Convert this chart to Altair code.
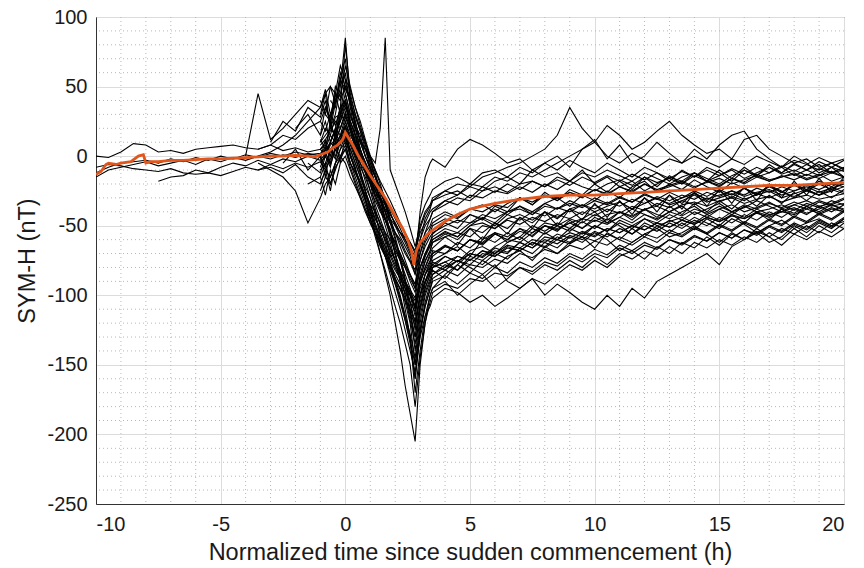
import altair as alt
import numpy as np
import pandas as pd

# ---- time grids (hours since sudden commencement) ----
T_PRE = list(np.round(np.arange(-10.0, -1.49, 0.5), 2))   # 18 samples
T_EVT = list(np.round(np.arange(-1.0, 3.41, 0.2), 2))     # 23 samples
T_POST = list(np.round(np.arange(3.5, 20.01, 0.5), 2))    # 34 samples
T_ALL = T_PRE + T_EVT + T_POST

# ---- individual storms: (start time, SYM-H values in nT) ----
L1 = (-10.0, [0, -1, 3, 9, 8, 3, 4, 2, 5, 6, 7, 8, 6, 5, 8, 4, 6, 3,
              5, 8, 4, 10, 14, 20, 10, 0, -5, -12, -20, -28, -30, -38, -45, -50, -55, -62, -70, -78, -60, -50, -45,
              -40, -35, -30, -32, -25, -22, -26, -20, -18, -22, -15, -18, -12, -15, -10, -14, -18, -12, -16, -20,
              -15, -12, -18, -14, -10, -16, -12, -8, -13, -10, -14, -9, -12, -10])
L2 = (-10.0, [-8, -6, -7, -9, -10, -11, -9, -12, -13, -12, -14, -11, -8, -10, -6, -9, -5, -8,
              -4, -10, -2, 5, 0, 8, -5, -12, -20, -28, -35, -40, -48, -55, -60, -68, -75, -80, -88, -95, -80, -72, -65,
              -60, -55, -58, -50, -48, -52, -45, -42, -46, -40, -44, -38, -35, -40, -36, -33, -38, -34, -30, -35,
              -32, -28, -33, -30, -27, -31, -28, -25, -30, -27, -24, -28, -25, -22])
L3 = (-10.0, [-12, -8, -5, -4, -3, -5, -2, -4, -1, -3, 0, -2, 1, -1, 2, 0, 3, 1,
              2, 6, 3, 9, 12, 25, 15, 8, -2, -8, -15, -22, -30, -35, -42, -48, -55, -58, -62, -68, -55, -48, -40,
              -38, -32, -35, -28, -30, -25, -27, -22, -26, -20, -24, -18, -22, -25, -20, -17, -21, -15, -19, -16,
              -20, -14, -18, -22, -16, -19, -13, -17, -15, -12, -16, -13, -18, -15])
L4 = (-7.5, [-18, -15, -14, -10, -12, -8, -5, -7, -3, -6, -2, -4, 0,
             -3, 2, -6, 4, 10, 15, 5, -5, -15, -25, -35, -45, -52, -60, -70, -78, -85, -92, -100, -110, -90, -80, -72,
             -70, -65, -68, -60, -62, -55, -58, -52, -55, -48, -50, -45, -48, -42, -46, -40, -44, -38, -42, -45,
             -40, -36, -42, -38, -35, -40, -37, -33, -38, -35, -32, -36, -34, -30])
L5 = (-10.0, [-15, -10, -8, -6, -4, -7, -5, -3, -6, -2, -4, -1, -3, 0, -2, 1, -1, 2,
              0, 4, 10, 6, 15, 22, 12, 2, -8, -15, -25, -32, -40, -46, -55, -62, -70, -78, -85, -92, -75, -65, -58,
              -55, -50, -46, -48, -42, -45, -40, -38, -42, -36, -38, -34, -37, -32, -35, -30, -33, -28, -31, -34,
              -30, -27, -31, -28, -25, -29, -26, -24, -28, -25, -22, -26, -23, -20])
M1 = (-4.0, [0, 45, 12, 20, 30, 40,
             35, 48, 30, 40, 55, 70, 40, 25, 10, 0, -10, -20, -30, -40, -55, -70, -85, -100, -115, -130, -105, -90, -80,
             -75, -70, -65, -72, -60, -55, -62, -58, -50, -54, -48, -52, -45, -40, -48, -44, -38, -42, -46, -40,
             -36, -42, -38, -34, -40, -37, -32, -36, -40, -35, -38, -33, -36, -34])
M2 = (-3.5, [5, 8, 15, 12, 20,
             25, 18, 30, 22, 35, 40, 28, 20, 12, 5, -5, -15, -22, -30, -38, -45, -52, -60, -68, -75, -40, -15, -5,
             -2, -8, 5, 12, 8, 2, -5, -2, -10, -15, -12, -18, -10, -20, -15, -22, -18, -25, -20, -15,
             -18, -12, -16, -20, -14, -10, -15, -12, -8, -14, -10, -6, -12, -8])
M3 = (-3.5, [-5, -10, -15, -25, -48,
             -30, -20, -15, -5, 5, 10, -5, -15, -25, -35, -45, -55, -62, -70, -78, -85, -92, -98, -105, -112, -95, -85, -80,
             -78, -82, -75, -80, -85, -78, -90, -95, -88, -100, -92, -98, -105, -110, -100, -108, -95, -102, -90, -85,
             -80, -75, -70, -78, -65, -60, -55, -62, -58, -50, -55, -48, -52, -45])
M4 = (-3.5, [0, 3, 8, 15, 25,
             35, 45, 50, 38, 60, 50, 42, 30, 20, 10, 0, -12, -25, -35, -48, -60, -75, -90, -110, -140, -110, -95, -85,
             -80, -72, -76, -68, -65, -70, -62, -58, -64, -55, -60, -52, -56, -50, -54, -46, -50, -45, -48, -42,
             -46, -40, -44, -38, -42, -36, -40, -38, -35, -39, -34, -37, -32, -35])
M5 = (-3.5, [-10, -8, -12, -6, -15,
             -20, -10, -25, -5, 0, -5, -15, -22, -30, -38, -45, -55, -60, -68, -75, -82, -88, -95, -100, -108, -90, -82, -75,
             -68, -70, -62, -66, -58, -62, -55, -60, -52, -56, -50, -54, -47, -52, -45, -50, -56, -48, -52, -46,
             -50, -44, -48, -52, -45, -49, -55, -50, -46, -52, -48, -45, -50, -47])
S0 = (-1.0, [-5, 0, 8, 12, 20, 30, 18, 5, -10, -25, -40, -55, -70, -85, -100, -120, -140, -165, -185, -205, -150, -120, -100,
             -95, -85, -78, -70, -72, -65, -60, -62, -55, -50, -52, -48, -45, -47, -42, -40, -43, -38, -36, -40,
             -35, -33, -36, -32, -30, -34, -31, -29, -33, -30, -28, -31, -29, -27])
S1 = (-1.0, [10, 15, 20, 30, 50, 85, 40, 20, 5, -10, -20, -35, -45, -55, -65, -75, -90, -105, -120, -150, -120, -100, -90,
             -85, -78, -82, -72, -75, -68, -70, -62, -66, -58, -60, -55, -58, -50, -54, -48, -52, -45, -50, -47,
             -44, -48, -42, -46, -40, -44, -38, -42, -40, -37, -41, -38, -35, -39])
S2 = (-0.8, [30, 25, 40, 45, 60, 35, 25, 10, 0, -8, -15, -25, -32, -40, -50, -58, -65, -72, -85, -70, -60, -52,
             -48, -42, -45, -38, -40, -35, -37, -30, -33, -28, -30, -26, -29, -24, -27, -22, -25, -20, -24, -21,
             -18, -22, -19, -16, -20, -17, -14, -18, -15, -13, -17, -14, -11, -15])
S3 = (-1.0, [-15, -5, -20, -10, 0, 5, -5, -12, -20, -30, -40, -50, -58, -65, -72, -80, -88, -95, -105, -120, -100, -85, -78,
             -72, -65, -68, -60, -63, -56, -60, -54, -57, -50, -53, -48, -52, -46, -49, -44, -48, -42, -45, -40,
             -43, -38, -41, -36, -40, -35, -38, -34, -37, -33, -36, -32, -35, -31])
S4 = (-1.0, [5, 10, 0, 15, 25, 35, 25, 15, 10, 5, 0, -5, 20, 85, -10, -20, -30, -40, -52, -65, -50, -40, -35,
             -30, -25, -28, -20, -22, -15, -18, -12, -15, -10, -5, 0, 5, 10, 0, -5, 2, -3, -8, -2,
             -5, 0, -4, -8, -2, -6, 0, -4, -8, -3, -6, -1, -5, -2])
S5 = (-1.0, [0, 5, 15, 10, 20, 30, 20, 10, 0, -10, -18, -25, -32, -40, -48, -55, -60, -68, -75, -82, -60, -45, -38,
             -32, -25, -20, -22, -15, -12, -8, -5, 0, 5, 15, 35, 20, 10, 22, 15, 5, 10, 18, 25,
             15, 8, 2, 5, -2, 12, 15, 5, 0, -5, -2, -8, -5, -10])
S6 = (-0.6, [40, 35, 55, 45, 30, 20, 5, -5, -15, -28, -38, -50, -62, -75, -90, -110, -130, -170, -140, -115, -100,
             -95, -90, -100, -92, -85, -95, -88, -80, -85, -78, -82, -75, -80, -72, -78, -70, -74, -68, -72, -65,
             -70, -62, -66, -60, -64, -58, -62, -55, -60, -52, -58, -50, -55, -48])
S7 = (-1.0, [-10, -5, 5, 0, 12, 18, 8, -2, -12, -22, -30, -40, -48, -58, -66, -75, -82, -90, -98, -104, -88, -76, -68,
             -62, -58, -55, -58, -50, -52, -46, -49, -44, -47, -42, -45, -40, -43, -38, -41, -36, -39, -34, -37,
             -32, -35, -30, -33, -29, -32, -27, -30, -26, -29, -25, -28, -24, -27])
S8 = (-1.0, [15, 25, 10, 20, 35, 40, 25, 15, 2, -8, -18, -28, -36, -45, -55, -62, -72, -80, -90, -98, -80, -70, -62,
             -58, -52, -55, -48, -45, -50, -42, -46, -40, -43, -37, -40, -35, -38, -33, -36, -31, -34, -29, -32,
             -28, -31, -26, -29, -25, -28, -23, -26, -22, -25, -21, -24, -20, -22])
S9 = (-1.0, [-20, -10, -15, -5, 5, 15, 0, -10, -22, -32, -42, -52, -62, -72, -82, -92, -102, -115, -130, -160, -125, -105, -92,
             -85, -80, -75, -78, -70, -72, -66, -68, -62, -65, -58, -62, -55, -58, -52, -55, -50, -53, -48, -51,
             -46, -49, -44, -47, -42, -45, -40, -43, -38, -41, -36, -40, -35, -38])
S10 = (-1.0, [5, 0, 10, 20, 15, 28, 18, 10, 0, -8, -16, -24, -32, -40, -48, -55, -62, -70, -76, -85, -65, -55, -50,
              -45, -40, -44, -38, -35, -40, -34, -30, -35, -28, -32, -26, -30, -24, -28, -22, -26, -20, -25, -22,
              -19, -23, -18, -21, -16, -20, -15, -18, -14, -17, -13, -16, -12, -15])
S11 = (-1.0, [40, 30, 50, 45, 65, 55, 48, 35, 22, 10, -2, -15, -28, -40, -55, -70, -85, -100, -118, -135, -110, -95, -85,
              -80, -76, -72, -75, -68, -70, -64, -66, -60, -62, -56, -59, -54, -57, -52, -55, -50, -53, -48, -51,
              -46, -49, -44, -47, -43, -45, -41, -44, -40, -42, -38, -41, -37, -40])
S12 = (-1.0, [10, 20, 15, 28, 30, 45, 30, 20, 12, 5, -2, -10, -18, -25, -32, -40, -48, -55, -62, -70, -45, -35, -28,
              -24, -18, -15, -20, -12, -10, -15, -8, -12, -5, -10, -3, -8, -12, -5, -10, -15, -8, -12, -18,
              -10, -15, -8, -12, -18, -10, -14, -8, -12, -6, -10, -14, -8, -11])
S13 = (-1.0, [0, -8, 5, -2, 10, 12, 0, -10, -20, -32, -45, -58, -70, -82, -95, -108, -120, -135, -150, -180, -145, -120, -105,
              -98, -92, -95, -88, -90, -84, -86, -80, -83, -76, -79, -72, -76, -70, -73, -66, -70, -64, -67, -60,
              -64, -58, -61, -55, -59, -53, -56, -50, -54, -48, -52, -46, -50, -44])
S14 = (-1.0, [25, 35, 28, 45, 40, 50, 38, 28, 18, 8, -5, -15, -25, -35, -45, -55, -65, -75, -85, -95, -75, -62, -55,
              -50, -45, -48, -42, -45, -38, -42, -36, -40, -34, -38, -32, -36, -30, -34, -29, -33, -27, -31, -26,
              -30, -25, -29, -24, -28, -23, -27, -22, -26, -21, -25, -20, -24, -19])
S15 = (-1.0, [-25, -15, -20, -8, -2, 5, -8, -18, -28, -38, -48, -55, -65, -72, -80, -88, -95, -102, -110, -118, -100, -90, -82,
              -76, -80, -72, -75, -68, -72, -65, -68, -62, -66, -60, -63, -58, -61, -56, -60, -64, -58, -62, -55,
              -58, -52, -56, -50, -54, -48, -52, -46, -50, -44, -48, -42, -46, -40])
S16 = (-1.0, [8, 12, 18, 25, 20, 32, 22, 12, 4, -4, -12, -20, -26, -34, -42, -48, -55, -60, -66, -72, -52, -42, -36,
              -32, -28, -25, -30, -22, -26, -20, -24, -18, -22, -17, -21, -15, -19, -14, -18, -13, -17, -12, -16,
              -11, -15, -10, -14, -9, -13, -8, -12, -7, -11, -6, -10, -5, -9])
N1 = (-3.0, [10, 25, 18, 35,
             28, 40, 22, 45, 30, 55, 35, 15, 0, -12, -25, -38, -50, -62, -75, -88, -100, -115, -128, -145, -115, -98, -88,
             -82, -88, -78, -84, -75, -80, -72, -68, -75, -65, -70, -62, -58, -66, -55, -60, -52, -58, -50, -55,
             -48, -53, -45, -50, -42, -48, -40, -46, -38, -44, -36, -42, -38, -40])
N2 = (-2.5, [-5, 5, -10,
             0, -15, 5, 10, -5, 15, 0, -10, -18, -28, -36, -45, -52, -60, -68, -75, -82, -90, -96, -102, -80, -70, -64,
             -60, -54, -58, -50, -44, -48, -40, -36, -42, -34, -30, -36, -28, -32, -25, -30, -22, -18, -26, -20,
             -24, -17, -22, -26, -19, -23, -28, -21, -25, -30, -24, -28, -22, -26])
N3 = (-2.0, [20, 30,
             15, 35, 25, 50, 42, 65, 50, 35, 25, 12, 0, -10, -20, -32, -45, -58, -72, -88, -105, -125, -100, -85, -76,
             -70, -64, -68, -60, -64, -56, -60, -52, -58, -50, -54, -46, -52, -44, -48, -40, -46, -38, -44, -36,
             -42, -34, -40, -32, -38, -30, -36, -28, -34, -26, -32, -25, -30, -24])
N4 = (-1.5, [-5,
             -12, 0, -8, 8, 15, 10, 5, -5, -15, -25, -35, -48, -58, -68, -80, -92, -105, -118, -132, -150, -125, -108, -96,
             -90, -86, -92, -84, -88, -80, -84, -76, -80, -73, -77, -70, -74, -67, -71, -64, -68, -62, -66, -60,
             -63, -57, -61, -55, -59, -53, -57, -51, -55, -49, -53, -47, -51, -45])
N5 = (-0.8, [5, 25, 12, 30, 40, 20, 8, -5, -18, -30, -42, -55, -65, -78, -90, -102, -118, -135, -160, -128, -108, -95,
             -88, -82, -86, -78, -80, -74, -77, -70, -73, -67, -70, -64, -67, -61, -64, -58, -62, -56, -59, -53,
             -57, -51, -55, -49, -53, -47, -51, -45, -49, -43, -47, -41, -45, -39])
N6 = (-0.6, [20, 15, 35, 80, 45, 30, 18, 5, -8, -20, -32, -45, -58, -70, -82, -95, -112, -130, -108, -92, -82,
             -78, -72, -76, -70, -73, -66, -69, -62, -66, -60, -63, -57, -60, -54, -58, -52, -56, -50, -54, -48,
             -52, -46, -50, -44, -48, -42, -46, -40, -44, -38, -42, -36, -40, -35])
N7 = (-1.0, [-8, 2, 10, 18, 25, 38, 22, 10, 0, -10, -20, -30, -38, -46, -55, -62, -70, -78, -86, -92, -70, -55, -45,
             -40, -32, -28, -22, -25, -18, -15, -20, -10, -5, 0, -8, 5, 12, -2, 8, -5, 0, 10, 2,
             -5, 5, -2, 8, 15, 18, 5, -2, -8, 0, -5, -12, -8, -15])
N8 = (-1.0, [12, 5, 22, 15, 30, 25, 12, 0, -12, -25, -38, -50, -60, -72, -85, -98, -110, -125, -140, -155, -130, -115, -108,
             -102, -95, -98, -105, -100, -108, -102, -95, -88, -92, -85, -78, -82, -75, -80, -72, -68, -74, -65, -70,
             -62, -66, -58, -64, -56, -60, -54, -58, -52, -56, -50, -55, -48, -52])
N9 = (-1.5, [-20,
             -15, -28, -10, -20, -5, 0, -10, -20, -30, -40, -48, -56, -64, -72, -80, -88, -96, -104, -112, -122, -100, -90, -84,
             -80, -76, -82, -74, -78, -70, -74, -66, -70, -62, -66, -58, -62, -55, -60, -68, -62, -56, -52, -58,
             -55, -50, -56, -62, -55, -60, -52, -58, -64, -56, -60, -54, -58, -52])
N10 = (-0.4, [10, 28, 40, 25, 15, 5, -5, -15, -25, -35, -45, -55, -65, -75, -85, -95, -108, -88, -75, -68,
              -62, -56, -60, -52, -55, -48, -52, -44, -48, -40, -45, -38, -42, -35, -40, -33, -38, -30, -36, -28,
              -34, -26, -32, -25, -30, -23, -28, -21, -26, -20, -24, -18, -22, -17])
N11 = (-1.0, [-2, 12, -6, 18, 8, 22, 2, -8, -22, -30, -45, -40, -58, -55, -72, -70, -86, -92, -100, -115, -92, -80, -70,
              -66, -58, -64, -52, -60, -48, -56, -44, -52, -40, -50, -38, -46, -34, -44, -32, -42, -30, -40, -28,
              -38, -26, -36, -24, -34, -22, -32, -20, -30, -18, -28, -16, -26, -15])
N12 = (-1.0, [30, 45, 20, 38, 55, 48, 40, 22, 15, 0, -8, -22, -30, -45, -52, -66, -74, -90, -98, -110, -85, -72, -62,
              -56, -48, -52, -42, -46, -36, -40, -30, -35, -26, -32, -24, -28, -20, -26, -18, -24, -15, -22, -14,
              -20, -12, -18, -10, -16, -8, -14, -6, -12, -5, -10, -4, -8, -3])

TRACES = {"L1": L1, "L2": L2, "L3": L3, "L4": L4, "L5": L5,
          "M1": M1, "M2": M2, "M3": M3, "M4": M4, "M5": M5,
          "S0": S0, "S1": S1, "S2": S2, "S3": S3, "S4": S4, "S5": S5, "S6": S6, "S7": S7,
          "S8": S8, "S9": S9, "S10": S10, "S11": S11, "S12": S12, "S13": S13, "S14": S14,
          "S15": S15, "S16": S16, "N1": N1, "N2": N2, "N3": N3, "N4": N4, "N5": N5, "N6": N6,
          "N7": N7, "N8": N8, "N9": N9, "N10": N10, "N11": N11, "N12": N12}

# ---- superposed-epoch average (orange) ----
MEAN_T = [-10, -9.8, -9.6, -9.5, -9.2, -9, -8.6, -8.3, -8.1, -8.0, -7.8, -7.5, -7, -6.5, -6, -5.5,
          -5, -4.5, -4, -3.5, -3, -2.5, -2, -1.5, -1.2, -1, -0.7, -0.5, -0.3, -0.1, 0, 0.1, 0.3,
          0.5, 0.8, 1, 1.3, 1.6, 2, 2.3, 2.5, 2.65, 2.75, 2.85, 3, 3.3, 3.6, 4, 4.5, 5, 5.5, 6,
          7, 8, 9, 10, 11, 12, 13, 14, 15, 16, 17, 18, 19, 20]
MEAN_V = [-13, -11, -6, -5, -6, -5, -4, 0, 1, -5, -4, -4, -3, -3, -2.5, -2,
          -2, -1.5, -1, -0.5, 0, 0, 0.5, 0, -0.5, 1, 3, 6, 8, 12, 17, 14, 8,
          1, -8, -14, -22, -30, -43, -52, -60, -68, -78, -68, -62, -56, -52, -47, -42, -38, -36, -34,
          -31, -29, -28, -28, -27, -26, -25, -24, -23, -22, -21, -21, -20, -19]

X_MAJOR = [-10, -5, 0, 5, 10, 15, 20]
Y_MAJOR = [-250, -200, -150, -100, -50, 0, 50, 100]
X_MINOR = [v for v in range(-9, 20) if v % 5 != 0]
Y_MINOR = [v for v in range(-240, 100, 10) if v % 50 != 0]

rows = []
T_ARR = np.array(T_ALL)
for name, (t0, vals) in TRACES.items():
    i0 = int(np.argmin(np.abs(T_ARR - t0)))
    for t, v in zip(T_ALL[i0:], vals):
        rows.append({"t": float(t), "v": v, "storm": name})
df = pd.DataFrame(rows)
df_mean = pd.DataFrame({"t": MEAN_T, "v": MEAN_V})
df_xmin = pd.DataFrame({"t": X_MINOR})
df_ymin = pd.DataFrame({"v": Y_MINOR})

FONT = "Liberation Sans"
XT = "Normalized time since sudden commencement (h)"
YT = "SYM-H (nT)"
xscale = alt.Scale(domain=[-10, 20], nice=False, zero=False)
yscale = alt.Scale(domain=[-250, 100], nice=False, zero=False)
LBL = "'' + datum.value"


def xenc():
    return alt.X("t:Q", scale=xscale, title=XT,
                 axis=alt.Axis(values=X_MAJOR, grid=True, ticks=False, labelPadding=10,
                               titlePadding=6, labelExpr=LBL))


def yenc():
    return alt.Y("v:Q", scale=yscale, title=YT,
                 axis=alt.Axis(values=Y_MAJOR, grid=True, ticks=False, labelPadding=9,
                               titlePadding=7, labelExpr=LBL))


minor_x = alt.Chart(df_xmin).mark_rule(color="#b8b8b8", strokeWidth=1, strokeDash=[1, 3]).encode(x=xenc())
minor_y = alt.Chart(df_ymin).mark_rule(color="#b8b8b8", strokeWidth=1, strokeDash=[1, 3]).encode(y=yenc())

storms = alt.Chart(df).mark_line(color="black", strokeWidth=1.1, clip=True).encode(
    x=xenc(), y=yenc(), detail="storm:N", order="t:Q")

mean_line = alt.Chart(df_mean).mark_line(color="#E0561C", strokeWidth=2.8, clip=True).encode(
    x=xenc(), y=yenc(), order="t:Q")

chart = alt.layer(minor_x, minor_y, storms, mean_line).properties(
    width=748, height=487,
    autosize=alt.AutoSizeParams(type="none"),
    padding={"left": 96, "top": 17, "right": 20, "bottom": 64},
    background="white",
).configure_axis(
    labelFont=FONT, titleFont=FONT, labelFontSize=20, titleFontSize=23.5,
    labelColor="#1a1a1a", titleColor="#1a1a1a", titleFontWeight="normal",
    gridColor="#dcdcdc", gridWidth=1, domainColor="#333333", domainWidth=1,
).configure_view(stroke="#333333", strokeWidth=1)

chart.save("out.html", embed_options={"renderer": "svg", "actions": False})
